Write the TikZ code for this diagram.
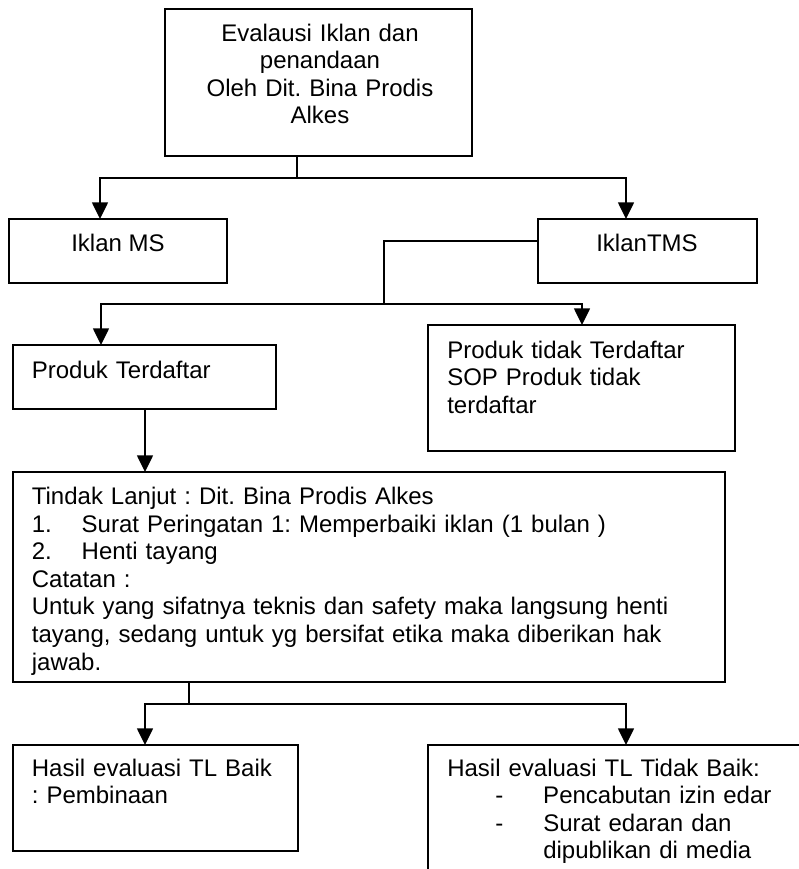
\documentclass[tikz,border=0pt]{standalone}
\usepackage{fontspec}
\setmainfont{Liberation Sans}
\usetikzlibrary{arrows.meta,calc}
\begin{document}
\frenchspacing
\begin{tikzpicture}[x=0.75pt,y=-0.75pt,
  conn/.style={line width=1.1pt},
  box/.style={draw, line width=1.1pt, rectangle, inner sep=0pt, outer sep=0pt, anchor=north west},
  arr/.style={line width=1.1pt, -{Triangle[length=12.5pt,width=12pt]}},
  txt/.style={inner sep=0pt, font=\fontsize{18}{20.7}\selectfont\frenchspacing, align=left, text width=560pt, anchor=base west},
  ctxt/.style={inner sep=0pt, font=\fontsize{18}{20.7}\selectfont\frenchspacing, align=center, anchor=base},
]
\path[use as bounding box] (0,0) rectangle (799,869);
\clip (0,0) rectangle (799,869);
\fill[white] (0,0) rectangle (799,869);

% boxes
\node[box, minimum width=230.25pt, minimum height=110.25pt] (top) at (165,9) {};
\node[box, minimum width=163.5pt, minimum height=48pt] (ms) at (9,219) {};
\node[box, minimum width=164.25pt, minimum height=48pt] (tms) at (538,219) {};
\node[box, minimum width=197.25pt, minimum height=48pt] (pt) at (13,345) {};
\node[box, minimum width=230.25pt, minimum height=94.5pt] (ptt) at (428,325) {};
\node[box, minimum width=534pt, minimum height=157.5pt] (tl) at (13,472) {};
\node[box, minimum width=213.75pt, minimum height=79.5pt] (baik) at (13,745) {};
\node[box, minimum width=300pt, minimum height=120pt] (tbaik) at (428,745) {};

% texts
\node[ctxt, text width=225pt] (topT) at (320,41) {Evalausi Iklan dan\\penandaan\\Oleh Dit. Bina Prodis\\Alkes};
\node[ctxt] (msT) at (118,251) {Iklan MS};
\node[ctxt] (tmsT) at (647,251) {IklanTMS};
\node[txt] (ptT) at (31.6,378) {Produk Terdaftar};
\node[txt] (pttT) at (447,358) {Produk tidak Terdaftar\\SOP Produk tidak\\terdaftar};
\node[txt] (tlT) at (31.6,504.5) {Tindak Lanjut : Dit. Bina Prodis Alkes\\
\makebox[37.4pt][l]{1.}Surat Peringatan 1: Memperbaiki iklan (1 bulan )\\
\makebox[37.4pt][l]{2.}Henti tayang\\
Catatan :\\
Untuk yang sifatnya teknis dan safety maka langsung henti\\
tayang, sedang untuk yg bersifat etika maka diberikan hak\\
jawab.};
\node[txt] (baikT) at (31.6,776) {Hasil evaluasi TL Baik\\: Pembinaan};
\node[txt] (tbaikT) at (447,776) {Hasil evaluasi TL Tidak Baik:\\
\hspace*{36pt}\makebox[36pt][l]{-}Pencabutan izin edar\\
\hspace*{36pt}\makebox[36pt][l]{-}Surat edaran dan\\
\hspace*{72pt}dipublikan di media};

% connectors
\coordinate (j1) at (297,178);
\draw[conn] (top.south -| j1) -- (j1);
\draw[arr] (j1) -| ($(ms.north west)+(91,0)$);
\draw[arr] (j1) -| ($(tms.north west)+(88,0)$);

\coordinate (j2) at (384,304);
\draw[conn] ($(tms.north west)+(0,22)$) -| (j2);
\draw[arr] (j2) -| ($(pt.north west)+(88,0)$);
\draw[arr] (j2) -| ($(ptt.north west)+(154,0)$);

\coordinate (a1) at ($(pt.south west)+(132,0)$);
\draw[arr] (a1) -- (a1 |- tl.north);

\coordinate (j3) at (189,704);
\draw[conn] (tl.south -| j3) -- (j3);
\draw[arr] (j3) -| ($(baik.north west)+(132,0)$);
\draw[arr] (j3) -| ($(tbaik.north west)+(198,0)$);
\end{tikzpicture}
\end{document}
